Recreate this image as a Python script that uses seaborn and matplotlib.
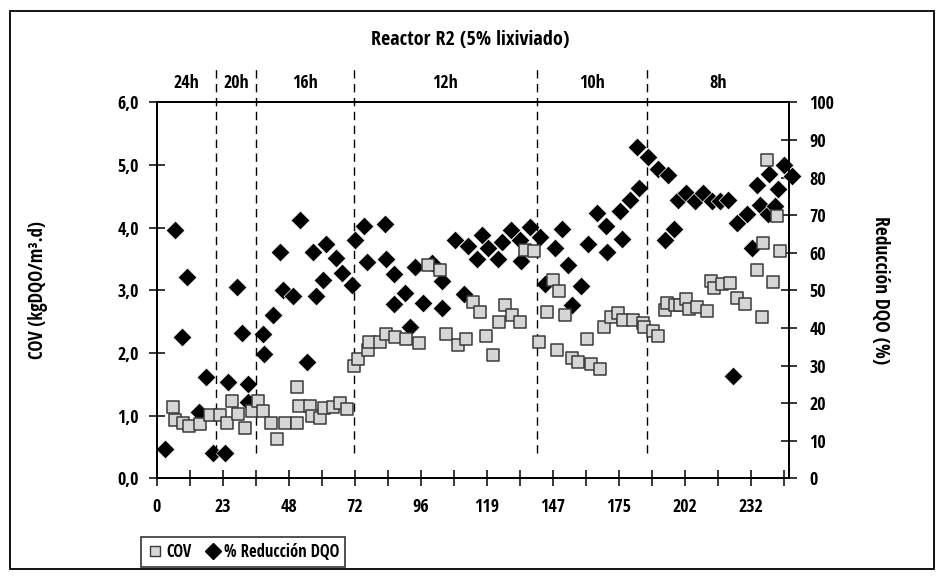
import numpy as np
import pandas as pd
import matplotlib
matplotlib.use("Agg")
import matplotlib.pyplot as plt
from matplotlib.lines import Line2D
from matplotlib.patches import Rectangle
from matplotlib import font_manager
import seaborn as sns

# ---------------- data ----------------
cov_day = [6.2, 7.1, 10.3, 12.8, 16.9, 20.8, 24.7, 27.3, 29.3, 31.9, 34.5, 37.1, 39.4, 41.6, 44.8,
           46.9, 50.3, 54.7, 54.8, 55.6, 59.9, 60.7, 63.8, 65.4, 68.9, 71.6, 74.4, 76.9, 78.7, 82.4,
           83.0, 87.1, 89.7, 93.1, 97.5, 102.5, 106.1, 110.5, 112.9, 117.8, 121.0, 123.5, 126.3, 128.8,
           131.3, 133.6, 136.0, 138.7, 141.9, 143.7, 147.2, 149.2, 152.4, 154.9, 156.2, 157.2, 159.4,
           162.3, 164.7, 167.9, 169.7, 173.1, 174.7, 177.3, 180.1, 182.2, 186.1, 189.8, 190.3, 193.7,
           195.9, 198.5, 199.5, 202.4, 204.4, 206.6, 207.9, 211.2, 215.0, 216.4, 217.7, 220.7, 224.0,
           226.5, 230.0, 234.5, 236.3, 236.9, 238.4, 240.6, 242.5, 243.4]
cov_val = [1.14, 0.93, 0.88, 0.84, 0.87, 1.01, 1.01, 0.89, 1.23, 1.03, 0.81, 1.07, 1.24, 1.07, 0.88,
           0.62, 0.88, 0.88, 1.46, 1.16, 1.16, 0.99, 0.96, 1.12, 1.14, 1.20, 1.10, 1.79, 1.90, 2.04,
           2.18, 2.18, 2.31, 2.26, 2.23, 2.16, 3.40, 3.33, 2.31, 2.13, 2.23, 2.82, 2.66, 2.27,
           1.97, 2.50, 2.76, 2.61, 2.50, 3.64, 3.63, 2.18, 2.65, 3.16, 2.04, 2.99, 2.61,
           1.92, 1.85, 2.22, 1.82, 1.74, 2.42, 2.57, 2.64, 2.52, 2.53, 2.48, 2.41, 2.35,
           2.27, 2.69, 2.80, 2.77, 2.77, 2.86, 2.70, 2.74, 2.67, 3.15, 3.04, 3.10, 3.12,
           2.88, 2.78, 3.32, 2.58, 3.75, 5.08, 3.14, 4.19, 3.63]

dqo_day = [3.2, 7.1, 9.8, 12.0, 16.6, 19.3, 22.0, 26.5, 28.0, 31.2, 33.2, 35.8, 35.7, 41.6, 41.9,
           45.5, 48.3, 49.3, 53.2, 55.9, 58.8, 61.0, 62.3, 65.0, 66.2, 70.0, 72.3, 76.2, 77.5, 80.8,
           82.1, 89.0, 89.6, 92.7, 92.7, 97.0, 98.9, 100.9, 103.9, 107.4, 111.3, 111.3, 116.6, 120.0,
           121.5, 125.3, 127.2, 129.5, 133.2, 134.7, 138.5, 142.1, 142.2, 145.7, 149.6, 151.7, 155.6,
           158.2, 160.6, 162.1, 165.6, 168.6, 171.9, 175.5, 176.0, 181.0, 181.6, 184.8, 188.5, 187.5,
           192.0, 195.7, 199.8, 198.5, 202.2, 203.7, 206.8, 210.2, 213.5, 216.8, 220.0, 223.3, 225.1,
           226.8, 230.4, 232.4, 234.3, 235.6, 239.3, 238.8, 241.5, 242.7, 245.0, 248.3]
dqo_val = [7.8, 66.0, 37.7, 53.6, 17.6, 26.9, 6.6, 6.6, 25.7, 51.0, 38.6, 25.1, 20.2, 38.3, 33.1,
           43.4, 60.3, 50.1, 48.5, 68.7, 31.0, 60.1, 48.5, 52.8, 62.4, 58.6, 54.7, 51.3, 63.5, 67.0,
           57.6, 67.6, 58.3, 54.4, 46.4, 49.4, 40.3, 56.1, 46.7, 57.3, 52.5, 45.2, 63.5, 49.1,
           61.7, 58.2, 64.8, 61.2, 58.2, 62.8, 66.1, 63.5, 57.8, 66.8, 64.3, 51.6, 61.2,
           66.2, 56.7, 46.0, 51.1, 62.3, 70.5, 67.2, 60.1, 71.2, 63.7, 73.9, 77.3, 88.0,
           85.5, 82.2, 80.7, 63.4, 66.2, 74.0, 76.0, 73.8, 76.0, 73.8, 73.8, 74.1, 27.2,
           68.0, 70.2, 61.2, 78.0, 72.6, 80.9, 70.3, 72.4, 77.0, 83.3, 80.5]

phase_bounds = [0, 23.2, 38.8, 77.2, 148.4, 191.6, 246.8]
phase_labels = ["24h", "20h", "16h", "12h", "10h", "8h"]
xtick_labels = ["0", "23", "48", "72", "96", "119", "147", "175", "202", "232"]

cov_df = pd.DataFrame({"dia": cov_day, "COV": cov_val})
dqo_df = pd.DataFrame({"dia": dqo_day, "DQO": dqo_val})

# ---------------- style ----------------
sns.set_theme(style="white")
names = {f.name for f in font_manager.fontManager.ttflist}
fam = ["DejaVu Sans"]
for cand in ["Liberation Sans Narrow", "Open Sans Condensed", "DejaVu Sans Condensed",
             "Roboto Condensed", "Noto Sans Condensed"]:
    if cand in names:
        fam = [cand, "DejaVu Sans"]
        break
plt.rcParams["font.family"] = fam
plt.rcParams["font.stretch"] = "condensed"
plt.rcParams["font.weight"] = "bold"
plt.rcParams["text.color"] = "black"
plt.rcParams["xtick.color"] = "black"
plt.rcParams["ytick.color"] = "black"
plt.rcParams["xtick.labelcolor"] = "black"
plt.rcParams["ytick.labelcolor"] = "black"
FS_TICK = 13
FS_TITLE = 14.5
FS_LAB = 13.5
FS_LEG = 12

fig = plt.figure(figsize=(9.41, 5.80), dpi=100)
ax = fig.add_axes([156.7 / 941, 1 - 478.3 / 580, (788.5 - 156.7) / 941, (478.3 - 102.3) / 580])
ax2 = ax.twinx()

# diamonds below squares
ax.set_zorder(ax2.get_zorder() + 1)
ax.patch.set_visible(False)

sns.scatterplot(data=dqo_df, x="dia", y="DQO", ax=ax2, marker="D", s=92, color="black",
                edgecolor="white", linewidth=0.5, clip_on=False, zorder=3, legend=False)
sns.scatterplot(data=cov_df, x="dia", y="COV", ax=ax, marker="s", s=84, color="#d6d6d6",
                edgecolor="#3a3a3a", linewidth=1.1, clip_on=False, zorder=4, legend=False)

xmax = phase_bounds[-1]
step = 232 / 18
ax.set_xlim(0, xmax)
ax2.set_xlim(0, xmax)
ax.set_ylim(0, 6)
ax2.set_ylim(0, 100)

tick_pos = np.arange(0, 20) * step
ax.set_xticks(tick_pos)
ax.set_xticklabels([xtick_labels[i // 2] if i % 2 == 0 else "" for i in range(20)])
ax.set_yticks(np.arange(0, 7))
ax.set_yticklabels([f"{v:.1f}".replace(".", ",") for v in range(0, 7)])
ax2.set_yticks(np.arange(0, 101, 10))
ax2.set_yticklabels([str(v) for v in range(0, 101, 10)])

for a in (ax, ax2):
    a.set_xlabel("")
    a.set_ylabel("")
    for sp in a.spines.values():
        sp.set_color("black")
        sp.set_linewidth(1.3)
    a.grid(False)

ax.tick_params(axis="x", direction="inout", length=11, width=1.1, color="black",
               labelsize=FS_TICK, pad=9, bottom=True)
ax.tick_params(axis="y", direction="inout", length=12, width=1.1, color="black",
               labelsize=FS_TICK, pad=7, left=True)
ax2.tick_params(axis="y", direction="inout", length=12, width=1.1, color="black",
                labelsize=FS_TICK, pad=9, right=True)

# phase separators
for b in phase_bounds[1:-1]:
    ax.axvline(b, ymin=0.067, ymax=1.091, color="black", lw=1.0,
               linestyle=(0, (6, 4)), clip_on=False, zorder=1)
for i, lab in enumerate(phase_labels):
    c = (phase_bounds[i] + phase_bounds[i + 1]) / 2
    ax.text(c, 1.051, lab, transform=ax.get_xaxis_transform(), ha="center", va="center",
            fontsize=FS_TICK, fontweight="bold")

fig.text(0.4995, 1 - 40 / 580, "Reactor R2 (5% lixiviado)", ha="center", va="center",
         fontsize=FS_TITLE, fontweight="bold")
fig.text(38 / 941, 1 - 290 / 580, "COV (kgDQO/m³.d)", rotation=90, ha="center", va="center",
         fontsize=FS_LAB, fontweight="bold")
fig.text(880 / 941, 1 - 290 / 580, "Reducción DQO (%)", rotation=270, ha="center", va="center",
         fontsize=FS_LAB + 0.5, fontweight="bold")

handles = [Line2D([], [], marker="s", ls="", markerfacecolor="#d6d6d6", markeredgecolor="#3a3a3a",
                  markersize=7.5, markeredgewidth=1.0),
           Line2D([], [], marker="D", ls="", color="black", markersize=8.5)]
leg = fig.legend(handles, ["COV", "% Reducción DQO"], loc="lower left",
                 bbox_to_anchor=(141 / 941, 13 / 580), bbox_transform=fig.transFigure,
                 ncol=2, frameon=True, fancybox=False, fontsize=FS_LEG, borderaxespad=0,
                 handletextpad=0.15, columnspacing=0.8, handlelength=1.0, borderpad=0.35)
leg.get_frame().set_edgecolor("black")
leg.get_frame().set_linewidth(1.2)

fig.patches.append(Rectangle((10 / 941, 11 / 580), 924 / 941, 558 / 580, transform=fig.transFigure,
                             fill=False, edgecolor="black", linewidth=1.3))

fig.savefig("out.png", dpi=100)
